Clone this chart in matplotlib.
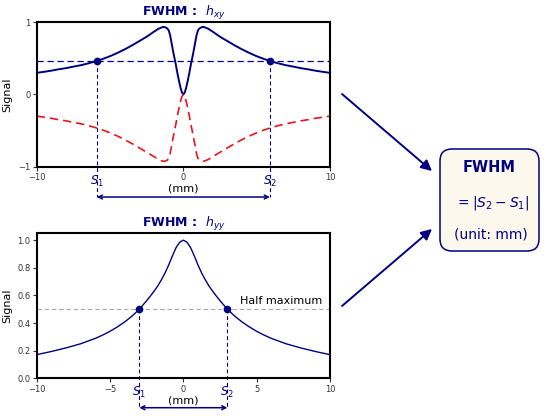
import matplotlib.pyplot as plt
from matplotlib.patches import FancyBboxPatch, FancyArrowPatch

# ---- data ----
# top panel, h_xy (solid blue) and its mirror (dashed red)
x_top = [-10, -9.5, -9, -8.5, -8, -7.5, -7, -6.5, -6, -5.5, -5, -4.5, -4, -3.5, -3, -2.5, -2, -1.7, -1.4, -1.25,
         -1.1, -1.0, -0.9, -0.8, -0.7, -0.6, -0.5, -0.4, -0.3, -0.2, -0.1, 0,
         0.1, 0.2, 0.3, 0.4, 0.5, 0.6, 0.7, 0.8, 0.9, 1.0, 1.1,
         1.25, 1.4, 1.7, 2, 2.5, 3, 3.5, 4, 4.5, 5, 5.5, 6, 6.5, 7, 7.5, 8, 8.5, 9, 9.5, 10]
h_xy = [0.30, 0.314, 0.33, 0.349, 0.365, 0.386, 0.405, 0.43, 0.458, 0.492, 0.53, 0.575, 0.625, 0.68, 0.74, 0.80, 0.87, 0.91, 0.935, 0.932,
        0.915, 0.89, 0.82, 0.71, 0.60, 0.50, 0.40, 0.29, 0.19, 0.10, 0.03, 0.0,
        0.03, 0.10, 0.19, 0.29, 0.40, 0.50, 0.60, 0.71, 0.82, 0.89, 0.915,
        0.932, 0.935, 0.91, 0.87, 0.80, 0.74, 0.68, 0.625, 0.575, 0.53, 0.492, 0.458, 0.43, 0.405, 0.386, 0.365, 0.349, 0.33, 0.314, 0.30]
h_xy_neg = [-0.30, -0.314, -0.33, -0.349, -0.365, -0.386, -0.405, -0.43, -0.458, -0.492, -0.53, -0.575, -0.625, -0.68, -0.74, -0.80, -0.86, -0.90, -0.925, -0.925,
            -0.91, -0.885, -0.82, -0.71, -0.60, -0.50, -0.40, -0.29, -0.19, -0.10, -0.03, 0.0,
            -0.03, -0.10, -0.19, -0.29, -0.40, -0.50, -0.60, -0.71, -0.82, -0.885, -0.91,
            -0.925, -0.925, -0.90, -0.86, -0.80, -0.74, -0.68, -0.625, -0.575, -0.53, -0.492, -0.458, -0.43, -0.405, -0.386, -0.365, -0.349, -0.33, -0.314, -0.30]
half_top = 0.465
s_top = [-5.9, 5.9]

# bottom panel, h_yy
x_bot = [-10, -9, -8, -7, -6, -5.5, -5, -4.5, -4, -3.5, -3, -2.75, -2.5, -2.25, -2, -1.75, -1.5, -1.25, -1, -0.75, -0.5, -0.25, 0,
         0.25, 0.5, 0.75, 1, 1.25, 1.5, 1.75, 2, 2.25, 2.5, 2.75, 3, 3.5, 4, 4.5, 5, 5.5, 6, 7, 8, 9, 10]
h_yy = [0.171, 0.194, 0.220, 0.250, 0.289, 0.313, 0.340, 0.372, 0.408, 0.450, 0.500, 0.531, 0.562, 0.595, 0.630, 0.668, 0.712, 0.762, 0.82, 0.885, 0.945, 0.985, 1.0,
        0.985, 0.945, 0.885, 0.82, 0.762, 0.712, 0.668, 0.630, 0.595, 0.562, 0.531, 0.500, 0.450, 0.408, 0.372, 0.340, 0.313, 0.289, 0.250, 0.220, 0.194, 0.171]
half_bot = 0.5
s_bot = [-3, 3]

navy = '#000080'
red = '#e8141c'

fig = plt.figure(figsize=(5.5, 4.18), dpi=100)


def style_axes(ax):
    for sp in ax.spines.values():
        sp.set_linewidth(1.5)
    ax.tick_params(labelsize=6, length=3, width=0.8, pad=1.5, colors='#333333')
    ax.set_ylabel("Signal", fontsize=8)
    ax.yaxis.set_label_coords(-0.085, 0.5)


# ---- top: h_xy ----
ax1 = fig.add_axes([0.0667, 0.6012, 0.5333, 0.3455])
ax1.plot(x_top, h_xy, color=navy, lw=1.4)
ax1.plot(x_top, h_xy_neg, color=red, lw=1.2, dashes=(5, 3))
ax1.axhline(half_top, color=navy, lw=0.9, dashes=(5, 3))
ax1.set_xlim(-10, 10)
ax1.set_ylim(-1, 1)
ax1.set_xticks([-10, 0, 10])
ax1.set_yticks([-1, 0, 1])
style_axes(ax1)
ax1.set_title(r"FWHM :  $h_{xy}$", fontsize=9, fontweight='bold', color=navy, pad=3)
for s in s_top:
    ax1.plot([s, s], [half_top, -1.42], color=navy, lw=0.8, dashes=(3.5, 2.5), clip_on=False)
    ax1.plot(s, half_top, 'o', color=navy, ms=4.5)
ax1.text(s_top[0], -1.2, r"$S_1$", color=navy, fontsize=8.5, ha='center', va='center')
ax1.text(s_top[1], -1.2, r"$S_2$", color=navy, fontsize=8.5, ha='center', va='center')
ax1.text(0, -1.3, "(mm)", fontsize=8, ha='center', va='center')
ax1.annotate("", xy=(s_top[1], -1.42), xytext=(s_top[0], -1.42), annotation_clip=False,
             arrowprops=dict(arrowstyle='<->', color=navy, lw=1.1, shrinkA=0, shrinkB=0,
                             mutation_scale=7))

# ---- bottom: h_yy ----
ax2 = fig.add_axes([0.0667, 0.095, 0.5333, 0.347])
ax2.plot(x_bot, h_yy, color=navy, lw=1.0)
ax2.axhline(half_bot, color='#aaaaaa', lw=0.8, dashes=(4, 2.5))
ax2.set_xlim(-10, 10)
ax2.set_ylim(0, 1.05)
ax2.set_xticks([-10, -5, 0, 5, 10])
ax2.set_yticks([0.0, 0.2, 0.4, 0.6, 0.8, 1.0])
style_axes(ax2)
ax2.set_title(r"FWHM :  $h_{yy}$", fontsize=9, fontweight='bold', color=navy, pad=3)
ax2.text(3.85, 0.56, "Half maximum", fontsize=8, va='center')
for s in s_bot:
    ax2.plot([s, s], [half_bot, -0.215], color=navy, lw=0.8, dashes=(3.5, 2.5), clip_on=False)
    ax2.plot(s, half_bot, 'o', color=navy, ms=4.5)
ax2.text(s_bot[0], -0.1, r"$S_1$", color=navy, fontsize=8.5, ha='center', va='center')
ax2.text(s_bot[1], -0.1, r"$S_2$", color=navy, fontsize=8.5, ha='center', va='center')
ax2.text(0, -0.158, "(mm)", fontsize=8, ha='center', va='center')
ax2.annotate("", xy=(s_bot[1], -0.213), xytext=(s_bot[0], -0.213), annotation_clip=False,
             arrowprops=dict(arrowstyle='<->', color=navy, lw=1.1, shrinkA=0, shrinkB=0,
                             mutation_scale=7))

# ---- right side: arrows and result box (pixel coords) ----
ov = fig.add_axes([0, 0, 1, 1])
ov.set_xlim(0, 550)
ov.set_ylim(418, 0)
ov.axis('off')
ov.patch.set_alpha(0)

ov.add_patch(FancyBboxPatch((440, 149), 99, 102, boxstyle="round,pad=0,rounding_size=12",
                            facecolor='#fcf8ee', edgecolor=navy, lw=1.1))
ov.add_patch(FancyArrowPatch((342, 94), (432, 171), arrowstyle='-|>', mutation_scale=16,
                             color=navy, lw=1.4, shrinkA=0, shrinkB=0))
ov.add_patch(FancyArrowPatch((342, 306), (432, 229), arrowstyle='-|>', mutation_scale=16,
                             color=navy, lw=1.4, shrinkA=0, shrinkB=0))
ov.text(489, 167, "FWHM", fontsize=10.5, fontweight='bold', color=navy, ha='center', va='center')
ov.text(492, 203, r"$= |S_2 - S_1|$", fontsize=10, color=navy, ha='center', va='center')
ov.text(491, 234, "(unit: mm)", fontsize=10, color=navy, ha='center', va='center')

fig.savefig("out.png", dpi=100)
